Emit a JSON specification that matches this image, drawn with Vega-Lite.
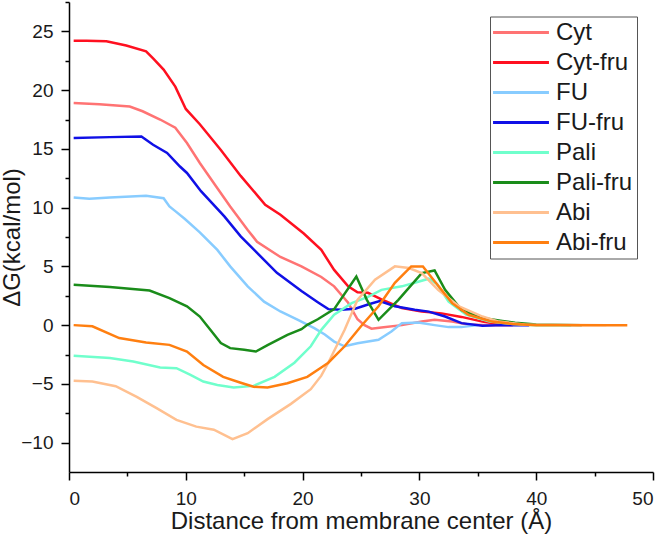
{
  "$schema": "https://vega.github.io/schema/vega-lite/v6.json",
  "width": 584,
  "height": 470,
  "autosize": {"type": "none"},
  "padding": {"left": 69, "top": 2, "right": 11, "bottom": 62},
  "background": "white",
  "config": {
    "view": {"stroke": null},
    "font": "Liberation Sans",
    "axis": {
      "grid": false,
      "domainColor": "#000",
      "domainWidth": 1.5,
      "tickColor": "#000",
      "tickWidth": 1.5,
      "labelFont": "Liberation Sans",
      "labelFontSize": 19,
      "labelColor": "#1a1a1a",
      "titleFont": "Liberation Sans",
      "titleFontSize": 24,
      "titleFontWeight": "normal",
      "titleColor": "#1a1a1a"
    },
    "legend": {
      "labelFont": "Liberation Sans",
      "labelFontSize": 24,
      "labelColor": "#1a1a1a",
      "labelLimit": 300
    }
  },
  "datasets": {
    "curves": [
      {"s":"Cyt","x":0.4,"y":18.9},{"s":"Cyt","x":2.6,"y":18.8},{"s":"Cyt","x":5.2,"y":18.6},{"s":"Cyt","x":6.3,"y":18.2},{"s":"Cyt","x":7.8,"y":17.5},{"s":"Cyt","x":9.1,"y":16.8},{"s":"Cyt","x":10.1,"y":15.5},{"s":"Cyt","x":11.2,"y":13.8},{"s":"Cyt","x":12.6,"y":11.8},{"s":"Cyt","x":13.8,"y":10.1},{"s":"Cyt","x":15.3,"y":8.1},{"s":"Cyt","x":16.1,"y":7.1},{"s":"Cyt","x":18.1,"y":5.8},{"s":"Cyt","x":19.9,"y":5.0},{"s":"Cyt","x":21.6,"y":4.1},{"s":"Cyt","x":22.7,"y":3.3},{"s":"Cyt","x":23.9,"y":1.9},{"s":"Cyt","x":24.7,"y":0.5},{"s":"Cyt","x":25.3,"y":0.0},{"s":"Cyt","x":25.9,"y":-0.3},{"s":"Cyt","x":26.75,"y":-0.2},{"s":"Cyt","x":28.5,"y":0.0},{"s":"Cyt","x":30.2,"y":0.3},{"s":"Cyt","x":31.3,"y":0.45},{"s":"Cyt","x":32.8,"y":0.3},{"s":"Cyt","x":34.2,"y":0.05},{"s":"Cyt","x":36.0,"y":0.0},{"s":"Cyt","x":38.0,"y":0.0},
      {"s":"Cyt-fru","x":0.4,"y":24.2},{"s":"Cyt-fru","x":1.5,"y":24.2},{"s":"Cyt-fru","x":3.2,"y":24.15},{"s":"Cyt-fru","x":4.9,"y":23.8},{"s":"Cyt-fru","x":6.6,"y":23.3},{"s":"Cyt-fru","x":7.2,"y":22.7},{"s":"Cyt-fru","x":8.1,"y":21.75},{"s":"Cyt-fru","x":9.1,"y":20.3},{"s":"Cyt-fru","x":10.0,"y":18.4},{"s":"Cyt-fru","x":11.2,"y":17.1},{"s":"Cyt-fru","x":13.0,"y":14.9},{"s":"Cyt-fru","x":14.7,"y":12.7},{"s":"Cyt-fru","x":16.8,"y":10.25},{"s":"Cyt-fru","x":18.1,"y":9.4},{"s":"Cyt-fru","x":20.1,"y":7.8},{"s":"Cyt-fru","x":21.6,"y":6.4},{"s":"Cyt-fru","x":22.7,"y":4.7},{"s":"Cyt-fru","x":23.9,"y":3.3},{"s":"Cyt-fru","x":24.7,"y":2.8},{"s":"Cyt-fru","x":25.6,"y":2.75},{"s":"Cyt-fru","x":26.75,"y":2.2},{"s":"Cyt-fru","x":28.5,"y":1.45},{"s":"Cyt-fru","x":30.2,"y":1.15},{"s":"Cyt-fru","x":31.9,"y":1.0},{"s":"Cyt-fru","x":33.6,"y":0.7},{"s":"Cyt-fru","x":35.4,"y":0.3},{"s":"Cyt-fru","x":37.0,"y":0.05},
      {"s":"FU","x":0.4,"y":10.87},{"s":"FU","x":1.75,"y":10.76},{"s":"FU","x":3.5,"y":10.87},{"s":"FU","x":6.6,"y":11.0},{"s":"FU","x":8.1,"y":10.8},{"s":"FU","x":8.6,"y":10.1},{"s":"FU","x":9.1,"y":9.7},{"s":"FU","x":9.9,"y":9.05},{"s":"FU","x":11.2,"y":7.9},{"s":"FU","x":12.7,"y":6.4},{"s":"FU","x":13.8,"y":5.0},{"s":"FU","x":15.3,"y":3.3},{"s":"FU","x":16.7,"y":2.0},{"s":"FU","x":18.1,"y":1.16},{"s":"FU","x":19.6,"y":0.45},{"s":"FU","x":21.0,"y":-0.26},{"s":"FU","x":21.9,"y":-0.8},{"s":"FU","x":22.7,"y":-1.4},{"s":"FU","x":23.6,"y":-1.8},{"s":"FU","x":24.7,"y":-1.55},{"s":"FU","x":26.5,"y":-1.25},{"s":"FU","x":27.6,"y":-0.54},{"s":"FU","x":28.5,"y":0.17},{"s":"FU","x":29.9,"y":0.22},{"s":"FU","x":31.3,"y":0.0},{"s":"FU","x":32.5,"y":-0.17},{"s":"FU","x":33.6,"y":-0.17},{"s":"FU","x":35.0,"y":0.0},
      {"s":"FU-fru","x":0.4,"y":15.93},{"s":"FU-fru","x":3.5,"y":16.0},{"s":"FU-fru","x":6.2,"y":16.05},{"s":"FU-fru","x":7.2,"y":15.35},{"s":"FU-fru","x":8.4,"y":14.65},{"s":"FU-fru","x":9.5,"y":13.5},{"s":"FU-fru","x":10.1,"y":12.95},{"s":"FU-fru","x":11.3,"y":11.4},{"s":"FU-fru","x":13.3,"y":9.25},{"s":"FU-fru","x":14.7,"y":7.55},{"s":"FU-fru","x":16.4,"y":5.85},{"s":"FU-fru","x":17.8,"y":4.45},{"s":"FU-fru","x":19.9,"y":2.9},{"s":"FU-fru","x":21.3,"y":1.95},{"s":"FU-fru","x":22.2,"y":1.36},{"s":"FU-fru","x":23.3,"y":1.3},{"s":"FU-fru","x":24.5,"y":1.4},{"s":"FU-fru","x":25.6,"y":1.75},{"s":"FU-fru","x":26.6,"y":2.05},{"s":"FU-fru","x":27.9,"y":1.6},{"s":"FU-fru","x":29.6,"y":1.3},{"s":"FU-fru","x":30.8,"y":1.15},{"s":"FU-fru","x":32.2,"y":0.73},{"s":"FU-fru","x":33.6,"y":0.17},{"s":"FU-fru","x":35.4,"y":-0.06},{"s":"FU-fru","x":37.1,"y":0.0},{"s":"FU-fru","x":39.4,"y":0.0},
      {"s":"Pali","x":0.4,"y":-2.6},{"s":"Pali","x":3.5,"y":-2.8},{"s":"Pali","x":5.5,"y":-3.1},{"s":"Pali","x":7.8,"y":-3.6},{"s":"Pali","x":9.2,"y":-3.66},{"s":"Pali","x":10.4,"y":-4.23},{"s":"Pali","x":11.5,"y":-4.8},{"s":"Pali","x":12.7,"y":-5.1},{"s":"Pali","x":14.1,"y":-5.3},{"s":"Pali","x":15.8,"y":-5.17},{"s":"Pali","x":17.6,"y":-4.4},{"s":"Pali","x":19.3,"y":-3.2},{"s":"Pali","x":20.7,"y":-1.8},{"s":"Pali","x":21.6,"y":-0.4},{"s":"Pali","x":22.7,"y":0.88},{"s":"Pali","x":24.2,"y":1.87},{"s":"Pali","x":25.6,"y":2.4},{"s":"Pali","x":26.75,"y":3.0},{"s":"Pali","x":28.5,"y":3.3},{"s":"Pali","x":29.6,"y":3.6},{"s":"Pali","x":30.8,"y":3.95},{"s":"Pali","x":31.5,"y":3.5},{"s":"Pali","x":32.5,"y":2.0},{"s":"Pali","x":34.0,"y":0.9},{"s":"Pali","x":36.0,"y":0.3},{"s":"Pali","x":38.0,"y":0.1},{"s":"Pali","x":40.0,"y":0.0},{"s":"Pali","x":43.0,"y":0.0},
      {"s":"Pali-fru","x":0.4,"y":3.43},{"s":"Pali-fru","x":3.5,"y":3.24},{"s":"Pali-fru","x":6.9,"y":2.95},{"s":"Pali-fru","x":8.6,"y":2.3},{"s":"Pali-fru","x":10.1,"y":1.6},{"s":"Pali-fru","x":11.2,"y":0.73},{"s":"Pali-fru","x":12.1,"y":-0.4},{"s":"Pali-fru","x":13.0,"y":-1.53},{"s":"Pali-fru","x":13.8,"y":-1.96},{"s":"Pali-fru","x":15.0,"y":-2.1},{"s":"Pali-fru","x":16.0,"y":-2.25},{"s":"Pali-fru","x":17.0,"y":-1.7},{"s":"Pali-fru","x":18.7,"y":-0.83},{"s":"Pali-fru","x":19.9,"y":-0.35},{"s":"Pali-fru","x":20.4,"y":0.03},{"s":"Pali-fru","x":21.3,"y":0.5},{"s":"Pali-fru","x":22.7,"y":1.36},{"s":"Pali-fru","x":24.6,"y":4.14},{"s":"Pali-fru","x":25.5,"y":2.15},{"s":"Pali-fru","x":26.5,"y":0.45},{"s":"Pali-fru","x":28.2,"y":2.15},{"s":"Pali-fru","x":30.2,"y":4.43},{"s":"Pali-fru","x":31.3,"y":4.65},{"s":"Pali-fru","x":32.2,"y":3.0},{"s":"Pali-fru","x":33.6,"y":1.3},{"s":"Pali-fru","x":35.4,"y":0.6},{"s":"Pali-fru","x":37.1,"y":0.35},{"s":"Pali-fru","x":38.2,"y":0.2},{"s":"Pali-fru","x":40.0,"y":0.05},{"s":"Pali-fru","x":43.9,"y":0.0},
      {"s":"Abi","x":0.4,"y":-4.74},{"s":"Abi","x":2.0,"y":-4.8},{"s":"Abi","x":4.0,"y":-5.2},{"s":"Abi","x":5.8,"y":-6.1},{"s":"Abi","x":7.5,"y":-7.07},{"s":"Abi","x":9.2,"y":-8.07},{"s":"Abi","x":10.9,"y":-8.64},{"s":"Abi","x":12.4,"y":-8.9},{"s":"Abi","x":14.0,"y":-9.7},{"s":"Abi","x":15.3,"y":-9.2},{"s":"Abi","x":17.0,"y":-8.0},{"s":"Abi","x":19.0,"y":-6.7},{"s":"Abi","x":20.7,"y":-5.45},{"s":"Abi","x":21.6,"y":-4.3},{"s":"Abi","x":22.2,"y":-3.2},{"s":"Abi","x":23.6,"y":-0.4},{"s":"Abi","x":24.7,"y":2.15},{"s":"Abi","x":26.2,"y":3.86},{"s":"Abi","x":27.9,"y":5.0},{"s":"Abi","x":29.1,"y":4.86},{"s":"Abi","x":30.2,"y":4.43},{"s":"Abi","x":31.6,"y":3.0},{"s":"Abi","x":33.4,"y":1.6},{"s":"Abi","x":35.4,"y":0.73},{"s":"Abi","x":36.8,"y":0.3},{"s":"Abi","x":39.0,"y":0.05},{"s":"Abi","x":46.0,"y":0.0},
      {"s":"Abi-fru","x":0.4,"y":0.0},{"s":"Abi-fru","x":2.0,"y":-0.1},{"s":"Abi-fru","x":4.3,"y":-1.1},{"s":"Abi-fru","x":6.6,"y":-1.48},{"s":"Abi-fru","x":8.6,"y":-1.68},{"s":"Abi-fru","x":10.1,"y":-2.25},{"s":"Abi-fru","x":11.5,"y":-3.4},{"s":"Abi-fru","x":13.2,"y":-4.4},{"s":"Abi-fru","x":14.7,"y":-4.9},{"s":"Abi-fru","x":15.8,"y":-5.25},{"s":"Abi-fru","x":17.0,"y":-5.3},{"s":"Abi-fru","x":18.7,"y":-4.95},{"s":"Abi-fru","x":20.4,"y":-4.4},{"s":"Abi-fru","x":21.6,"y":-3.6},{"s":"Abi-fru","x":22.2,"y":-3.2},{"s":"Abi-fru","x":23.6,"y":-1.8},{"s":"Abi-fru","x":25.0,"y":-0.1},{"s":"Abi-fru","x":26.5,"y":1.6},{"s":"Abi-fru","x":27.9,"y":3.6},{"s":"Abi-fru","x":29.3,"y":5.0},{"s":"Abi-fru","x":30.3,"y":5.0},{"s":"Abi-fru","x":31.2,"y":3.86},{"s":"Abi-fru","x":32.8,"y":1.87},{"s":"Abi-fru","x":34.2,"y":0.88},{"s":"Abi-fru","x":36.2,"y":0.3},{"s":"Abi-fru","x":38.0,"y":0.1},{"s":"Abi-fru","x":40.0,"y":0.0},{"s":"Abi-fru","x":47.8,"y":0.0}
    ]
  },
  "layer": [
    {
      "mark": {"type": "rule", "color": "#666", "strokeWidth": 1.5, "strokeDash": [1.5, 4.5]},
      "encoding": {
        "x": {"datum": 0, "type": "quantitative", "scale": {"domain": [0, 50], "nice": false},
              "axis": {"orient": "bottom", "values": [5, 15, 25, 35, 45], "tickSize": 4, "labels": false, "domain": false, "title": null}},
        "x2": {"datum": 50},
        "y": {"datum": 0, "type": "quantitative", "scale": {"domain": [-12.5, 27.5], "nice": false, "zero": false},
              "axis": {"orient": "left", "values": [-7.5, -2.5, 2.5, 7.5, 12.5, 17.5, 22.5, 27.5], "tickSize": 4, "labels": false, "domain": false, "title": null}}
      }
    },
    {
      "data": {"name": "curves"},
      "mark": {"type": "line", "strokeWidth": 2.5, "interpolate": "linear"},
      "encoding": {
        "x": {"field": "x", "type": "quantitative", "scale": {"domain": [0, 50], "nice": false},
              "axis": {"orient": "bottom", "values": [0, 10, 20, 30, 40, 50], "tickSize": 8, "labelPadding": 9, "title": "Distance from membrane center (Å)", "titlePadding": 1}},
        "y": {"field": "y", "type": "quantitative", "scale": {"domain": [-12.5, 27.5], "nice": false, "zero": false},
              "axis": {"orient": "left", "values": [-10, -5, 0, 5, 10, 15, 20, 25], "tickSize": 8, "labelPadding": 8, "title": "ΔG(kcal/mol)", "titlePadding": -3.5}},
        "color": {
          "field": "s", "type": "nominal",
          "scale": {
            "domain": ["Cyt", "Cyt-fru", "FU", "FU-fru", "Pali", "Pali-fru", "Abi", "Abi-fru"],
            "range": ["#FF7373", "#FF1020", "#88CCFF", "#1010E6", "#70FFCC", "#1A8C1A", "#FFC090", "#FF7F10"]
          },
          "legend": {
            "title": null,
            "orient": "none",
            "legendX": 421,
            "legendY": 14.5,
            "symbolType": "M-5,0H5",
            "symbolSize": 125,
            "symbolStrokeWidth": 3,
            "symbolOffset": 15,
            "labelOffset": 23,
            "rowPadding": 6,
            "padding": 4,
            "strokeColor": "#555",
            "fillColor": "white"
          }
        }
      }
    }
  ],
  "resolve": {"axis": {"x": "independent", "y": "independent"}}
}
